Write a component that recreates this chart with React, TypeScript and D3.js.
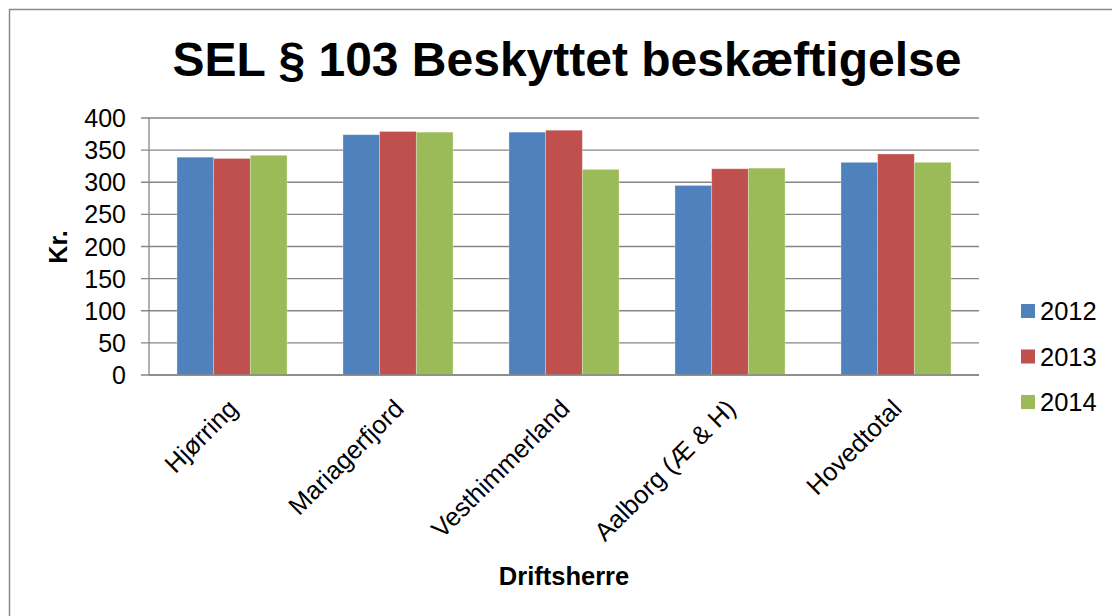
import React from "react";
import * as d3 from "d3";

const categories = ["Hjørring", "Mariagerfjord", "Vesthimmerland", "Aalborg (Æ & H)", "Hovedtotal"];
const years = ["2012", "2013", "2014"];
const values2012 = [339, 374, 378, 295, 331];
const values2013 = [337, 379, 381, 321, 344];
const values2014 = [342, 378, 320, 322, 331];
const yTicks = [0, 50, 100, 150, 200, 250, 300, 350, 400];
const colors = ["#4F81BD", "#C0504D", "#9BBB59"];

const series = [values2012, values2013, values2014];

const width = 1112;
const height = 616;
const plot = { left: 149, right: 979, top: 118, bottom: 375 };
const font = "'Liberation Sans', Arial, sans-serif";

export default function App() {
  const x = d3.scaleBand().domain(categories).range([plot.left, plot.right]).paddingInner(0.337).paddingOuter(0.1685);
  const xs = d3.scaleBand().domain(years).range([0, x.bandwidth()]);
  const y = d3.scaleLinear().domain([0, 400]).range([plot.bottom, plot.top]);

  return (
    <div style={{ position: "fixed", left: 0, top: 0 }}>
      <svg width={width} height={height} style={{ display: "block", background: "#fff" }} fontFamily={font}>
        <rect x={9.5} y={9.5} width={width + 20} height={height + 20} fill="#fff" stroke="#8a8a8a" strokeWidth={1.5} />

        <text x={567} y={76} textAnchor="middle" fontSize={48} fontWeight="bold">
          SEL § 103 Beskyttet beskæftigelse
        </text>

        {/* gridlines + ticks */}
        {yTicks.map((t) => (
          <g key={t}>
            <line x1={141} x2={plot.right} y1={y(t)} y2={y(t)} stroke="#868686" strokeWidth={1.3} />
            <text x={126} y={y(t)} dy="0.36em" textAnchor="end" fontSize={25}>
              {t}
            </text>
          </g>
        ))}
        <line x1={plot.left} x2={plot.left} y1={plot.top} y2={plot.bottom} stroke="#868686" strokeWidth={1.3} />

        {/* bars */}
        {categories.map((c, i) => (
          <g key={c} transform={`translate(${x(c)},0)`}>
            {years.map((yr, j) => (
              <rect
                key={yr}
                x={xs(yr)}
                y={y(series[j][i])}
                width={xs.bandwidth()}
                height={y(0) - y(series[j][i])}
                fill={colors[j]}
                stroke="#fff"
                strokeOpacity={0.35}
                strokeWidth={0.8}
              />
            ))}
          </g>
        ))}
        <line x1={plot.left} x2={plot.right} y1={plot.bottom} y2={plot.bottom} stroke="#868686" strokeWidth={1.3} />

        {/* category labels */}
        {categories.map((c) => {
          const cx = (x(c) as number) + x.bandwidth() / 2 + 1;
          const cy = 404;
          return (
            <text key={c} x={cx} y={cy} dy="0.35em" textAnchor="end" fontSize={25.5} transform={`rotate(-45,${cx},${cy})`}>
              {c}
            </text>
          );
        })}

        <text x={564} y={585} textAnchor="middle" fontSize={25.5} fontWeight="bold">
          Driftsherre
        </text>
        <text transform="translate(67,247) rotate(-90)" textAnchor="middle" fontSize={25} fontWeight="bold">
          Kr.
        </text>

        {/* legend */}
        {years.map((yr, j) => (
          <g key={yr} transform={`translate(1021,${304 + j * 45.5})`}>
            <rect width={14} height={14} fill={colors[j]} />
            <text x={19} y={7} dy="0.36em" fontSize={25.5}>
              {yr}
            </text>
          </g>
        ))}
      </svg>
    </div>
  );
}
